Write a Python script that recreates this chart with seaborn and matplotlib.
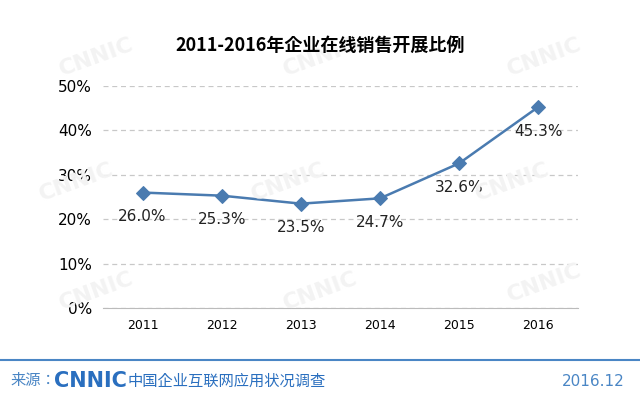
import matplotlib
matplotlib.use("Agg")
import matplotlib.pyplot as plt
import seaborn as sns
import pandas as pd

years = ["2011", "2012", "2013", "2014", "2015", "2016"]
values = [26.0, 25.3, 23.5, 24.7, 32.6, 45.3]
yticks = [0, 10, 20, 30, 40, 50]

CJK = ["Noto Sans CJK SC", "Noto Sans CJK JP", "Noto Sans CJK TC", "Noto Sans CJK KR", "DejaVu Sans"]
plt.rcParams["font.family"] = ["DejaVu Sans"] + CJK
df = pd.DataFrame({"year": years, "value": values})
fig = plt.figure(figsize=(6.4, 4.04), dpi=100)
ax = fig.add_axes([103/640, 1-308/404, 475/640, 222/404])

# faint watermark
for (x, y) in [(0.15,0.86),(0.5,0.86),(0.85,0.86),(0.12,0.55),(0.45,0.55),(0.8,0.55),(0.15,0.28),(0.5,0.28),(0.85,0.3)]:
    fig.text(x, y, "CNNIC", fontsize=16, fontweight="bold", color="#f3f3f3", rotation=20, ha="center", va="center", zorder=0)

color = "#4a7bb0"
sns.lineplot(data=df, x="year", y="value", ax=ax, color=color, marker="D", markersize=7,
             markeredgecolor=color, linewidth=1.8, sort=False)
ax.set_xlim(-0.5, 5.5)
ax.set_ylim(0, 50)
ax.set_yticks(yticks)
ax.set_yticklabels([f"{t}%" for t in yticks], fontsize=11)
ax.tick_params(axis="x", labelsize=9, length=0, pad=8)
ax.tick_params(axis="y", length=0, pad=8)
ax.grid(axis="y", linestyle=(0, (4, 3)), color="#c8c8c8", linewidth=0.9)
ax.set_axisbelow(True)
for s in ["top", "right", "left"]:
    ax.spines[s].set_visible(False)
ax.spines["bottom"].set_color("#bbbbbb")
ax.set_xlabel(""); ax.set_ylabel("")
ax.patch.set_alpha(0)
for i, v in enumerate(values):
    ax.annotate(f"{v:.1f}%", (i, v), xytext=(0, -12), textcoords="offset points",
                ha="center", va="top", fontsize=11, color="#222222")

fig.text(0.5, 1-45/404, "2011-2016年企业在线销售开展比例", ha="center", va="center",
         fontsize=13, fontweight="bold", fontfamily=CJK)
fig.add_artist(plt.Line2D([0, 1], [1-360/404, 1-360/404], color="#4a86c5", linewidth=1.5))
fig.text(10/640, 1-381/404, "来源：", fontsize=11, color="#4a86c5", va="center", fontfamily=CJK)
fig.text(54/640, 1-381/404, "CNNIC", fontsize=15, fontweight="bold", color="#2a6fbf", va="center")
fig.text(128/640, 1-381/404, "中国企业互联网应用状况调查", fontsize=11, color="#2a6fbf", va="center", fontfamily=CJK)
fig.text(625/640, 1-381/404, "2016.12", fontsize=11, color="#4a86c5", va="center", ha="right")
fig.savefig("out.png", dpi=100)
